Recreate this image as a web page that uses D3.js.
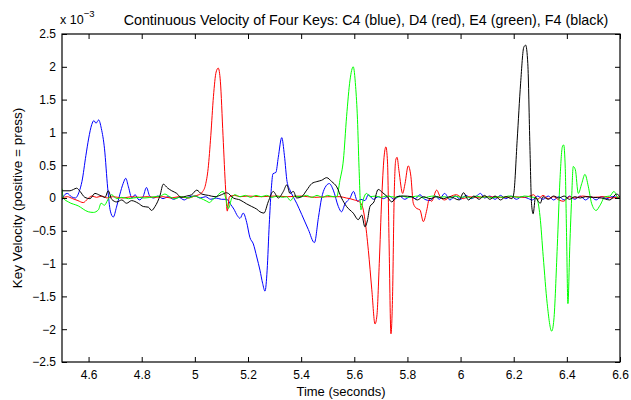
<!DOCTYPE html>
<html>
<head>
<meta charset="utf-8">
<script src="https://cdn.jsdelivr.net/npm/d3@7"></script>
<style>
  html, body { margin: 0; padding: 0; background: #fff; }
  svg { display: block; font-family: "Liberation Sans", Arial, Helvetica, sans-serif; }
</style>
</head>
<body>
<svg id="chart" width="631" height="400"></svg>
<script>
// Key velocity traces, [time in s, velocity in units of 1e-3]
const c4Blue = [
  [4.500,-0.03],[4.510,0.05],[4.520,0.07],[4.535,0.02],[4.550,0.00],[4.565,0.10],[4.575,0.25],
  [4.590,0.65],[4.600,0.90],[4.612,1.12],[4.620,1.18],[4.628,1.14],[4.638,1.19],[4.648,1.06],
  [4.660,0.75],[4.672,0.15],[4.682,-0.20],[4.693,-0.29],[4.705,-0.14],[4.718,0.06],[4.730,0.22],
  [4.740,0.30],[4.750,0.17],[4.763,0.00],[4.775,0.05],[4.790,-0.03],[4.805,0.02],[4.818,0.16],
  [4.830,0.03],[4.845,0.00],[4.860,0.03],[4.880,-0.01],[4.900,0.02],[4.920,-0.02],[4.940,0.01],
  [4.960,-0.03],[4.980,0.02],[5.000,0.03],[5.020,0.00],[5.040,0.02],[5.060,-0.02],[5.080,0.00],
  [5.100,-0.02],[5.120,-0.02],[5.135,-0.10],[5.147,-0.17],[5.160,-0.27],[5.170,-0.31],[5.182,-0.23],
  [5.195,-0.37],[5.207,-0.60],[5.220,-0.70],[5.233,-0.90],[5.245,-1.10],[5.255,-1.30],[5.264,-1.42],
  [5.272,-1.10],[5.280,-0.40],[5.287,0.10],[5.294,0.37],[5.305,0.39],[5.314,0.62],[5.327,0.92],
  [5.337,0.65],[5.347,0.25],[5.358,0.12],[5.370,0.02],[5.383,-0.08],[5.402,-0.25],[5.427,-0.48],
  [5.450,-0.68],[5.465,-0.30],[5.477,0.00],[5.490,0.16],[5.506,0.22],[5.521,0.12],[5.540,-0.13],
  [5.552,-0.21],[5.565,-0.09],[5.584,0.00],[5.597,0.10],[5.612,-0.05],[5.625,-0.02],[5.640,-0.04],
  [5.653,0.05],[5.672,-0.02],[5.690,0.02],[5.710,-0.01],[5.730,0.03],[5.750,-0.02],[5.770,0.03],
  [5.790,-0.02],[5.810,0.02],[5.830,-0.01],[5.847,0.05],[5.865,-0.02],[5.885,-0.04],[5.905,0.03],
  [5.920,-0.02],[5.940,0.07],[5.960,-0.03],[5.980,0.03],[6.000,-0.02],[6.020,0.04],[6.040,-0.01],
  [6.060,0.03],[6.075,0.07],[6.090,0.00],[6.110,0.03],[6.130,-0.02],[6.150,0.04],[6.170,-0.01],
  [6.190,0.03],[6.210,-0.02],[6.230,0.02],[6.250,0.00],[6.270,-0.03],[6.290,0.03],[6.310,-0.02],
  [6.330,0.03],[6.350,-0.03],[6.370,0.02],[6.390,-0.03],[6.410,0.03],[6.430,-0.02],[6.450,0.03],
  [6.470,-0.03],[6.490,0.02],[6.510,-0.03],[6.530,0.02],[6.550,-0.01],[6.570,0.02],[6.600,0.00]
];

const d4Red = [
  [4.500,0.00],[4.520,0.02],[4.540,-0.01],[4.560,-0.04],[4.580,-0.07],[4.595,-0.02],[4.612,0.03],
  [4.630,0.01],[4.650,0.03],[4.670,0.00],[4.690,0.02],[4.710,0.01],[4.730,0.00],[4.760,0.02],
  [4.790,0.01],[4.820,0.02],[4.850,0.01],[4.880,0.02],[4.910,0.00],[4.940,0.02],[4.975,0.00],
  [5.000,0.03],[5.015,0.05],[5.028,0.09],[5.040,0.20],[5.050,0.45],[5.060,0.95],[5.070,1.55],
  [5.080,1.92],[5.088,1.98],[5.096,1.78],[5.106,0.95],[5.116,0.12],[5.122,-0.20],[5.130,0.02],
  [5.150,0.04],[5.170,0.02],[5.200,0.03],[5.250,0.02],[5.300,0.03],[5.350,0.02],[5.400,0.03],
  [5.450,0.01],[5.500,0.02],[5.546,0.02],[5.570,0.00],[5.584,-0.01],[5.600,-0.03],[5.620,-0.06],
  [5.632,-0.15],[5.640,-0.33],[5.653,-0.80],[5.666,-1.40],[5.678,-1.92],[5.685,-1.80],[5.694,-1.00],
  [5.703,-0.03],[5.712,0.62],[5.719,0.78],[5.725,0.55],[5.731,-0.70],[5.738,-2.07],[5.744,-1.50],
  [5.750,0.00],[5.756,0.58],[5.761,0.62],[5.768,0.42],[5.782,0.07],[5.791,0.22],[5.803,0.49],
  [5.813,0.33],[5.822,-0.08],[5.835,-0.16],[5.847,-0.18],[5.860,-0.36],[5.873,-0.18],[5.882,-0.02],
  [5.891,-0.05],[5.910,0.12],[5.923,0.02],[5.940,-0.03],[5.960,0.02],[5.985,0.05],[6.010,-0.01],
  [6.030,0.02],[6.060,0.01],[6.100,0.02],[6.150,0.01],[6.200,0.02],[6.240,0.01],[6.260,0.03],
  [6.275,0.05],[6.290,-0.02],[6.310,0.04],[6.330,-0.01],[6.350,0.02],[6.370,-0.03],[6.387,-0.05],
  [6.410,0.02],[6.430,0.00],[6.460,0.03],[6.500,0.01],[6.540,0.02],[6.570,0.00],[6.600,0.02]
];

const e4Green = [
  [4.500,0.14],[4.505,0.00],[4.524,-0.06],[4.561,-0.12],[4.599,-0.21],[4.618,-0.22],[4.637,-0.18],
  [4.647,-0.08],[4.660,-0.11],[4.672,-0.03],[4.687,0.05],[4.706,-0.01],[4.725,0.01],[4.750,-0.01],
  [4.787,0.01],[4.810,0.00],[4.850,0.02],[4.870,0.03],[4.887,0.06],[4.905,0.02],[4.925,-0.01],
  [4.950,0.02],[4.975,0.00],[5.000,0.03],[5.020,0.00],[5.045,-0.05],[5.055,-0.07],[5.068,-0.02],
  [5.082,0.02],[5.095,0.08],[5.107,0.10],[5.116,0.00],[5.126,-0.16],[5.139,0.00],[5.150,0.05],
  [5.170,0.02],[5.190,0.04],[5.210,0.01],[5.230,0.04],[5.250,0.02],[5.270,0.04],[5.290,0.01],
  [5.310,0.03],[5.330,0.01],[5.345,0.02],[5.360,-0.04],[5.375,0.03],[5.400,0.02],[5.420,0.04],
  [5.440,0.01],[5.460,0.04],[5.480,0.01],[5.500,0.04],[5.520,0.02],[5.534,0.02],[5.546,0.27],
  [5.559,0.58],[5.571,1.24],[5.584,1.80],[5.596,2.00],[5.605,1.70],[5.612,1.20],[5.618,0.45],
  [5.625,-0.18],[5.634,-0.02],[5.646,0.07],[5.660,0.02],[5.680,0.03],[5.700,0.01],[5.720,0.03],
  [5.740,0.02],[5.760,0.01],[5.780,0.03],[5.800,0.01],[5.820,0.02],[5.840,0.03],[5.860,0.00],
  [5.880,0.02],[5.900,0.03],[5.920,0.01],[5.940,0.02],[5.960,0.00],[5.980,0.03],[6.000,0.01],
  [6.020,0.02],[6.040,0.00],[6.060,0.03],[6.080,0.01],[6.100,0.02],[6.120,0.00],[6.140,0.02],
  [6.160,0.01],[6.180,0.03],[6.200,0.02],[6.220,0.01],[6.240,0.03],[6.260,0.02],[6.275,0.01],
  [6.286,0.00],[6.299,-0.28],[6.311,-0.89],[6.326,-1.61],[6.343,-2.03],[6.351,-1.86],[6.364,-0.74],
  [6.374,0.27],[6.383,0.78],[6.388,0.81],[6.394,0.45],[6.399,-0.59],[6.404,-1.61],[6.411,-0.74],
  [6.418,0.00],[6.424,0.48],[6.432,0.43],[6.443,0.07],[6.456,0.22],[6.468,0.36],[6.481,0.17],
  [6.493,-0.08],[6.510,-0.19],[6.525,-0.11],[6.544,0.02],[6.562,0.03],[6.577,0.10],[6.594,0.00],
  [6.600,0.02]
];

const f4Black = [
  [4.500,0.11],[4.530,0.11],[4.543,0.13],[4.555,0.15],[4.568,0.10],[4.586,0.01],[4.605,-0.01],
  [4.624,0.07],[4.643,0.04],[4.662,0.01],[4.674,0.11],[4.687,-0.02],[4.706,-0.06],[4.725,-0.03],
  [4.743,-0.08],[4.762,-0.04],[4.787,-0.08],[4.806,-0.13],[4.825,-0.14],[4.837,-0.19],[4.850,-0.13],
  [4.869,0.04],[4.881,0.21],[4.898,0.15],[4.913,0.11],[4.932,0.07],[4.948,0.01],[4.969,0.03],
  [4.988,0.05],[5.007,0.12],[5.026,0.06],[5.051,0.04],[5.076,0.02],[5.100,0.05],[5.120,0.08],
  [5.145,0.00],[5.170,-0.03],[5.195,-0.09],[5.214,-0.13],[5.233,-0.17],[5.245,-0.21],[5.260,-0.23],
  [5.276,-0.06],[5.295,0.10],[5.314,0.00],[5.333,0.10],[5.346,0.20],[5.358,0.07],[5.371,0.10],
  [5.383,0.00],[5.402,0.02],[5.421,0.12],[5.440,0.22],[5.459,0.25],[5.477,0.27],[5.496,0.31],
  [5.515,0.25],[5.534,0.17],[5.552,0.00],[5.571,-0.13],[5.596,-0.23],[5.615,-0.33],[5.628,-0.26],
  [5.640,-0.44],[5.649,-0.35],[5.659,-0.13],[5.674,-0.06],[5.690,0.13],[5.707,0.08],[5.724,0.02],
  [5.741,-0.06],[5.760,0.02],[5.785,0.03],[5.816,0.02],[5.837,-0.03],[5.860,0.02],[5.885,-0.01],
  [5.910,0.02],[5.935,-0.01],[5.960,0.02],[5.995,-0.03],[6.011,0.08],[6.030,-0.03],[6.050,0.03],
  [6.070,-0.02],[6.090,0.04],[6.110,-0.02],[6.130,0.03],[6.150,-0.03],[6.170,0.02],[6.193,-0.01],
  [6.200,0.06],[6.213,0.88],[6.226,1.75],[6.238,2.30],[6.245,2.33],[6.253,2.05],[6.261,0.78],
  [6.267,-0.08],[6.273,-0.24],[6.282,0.01],[6.292,-0.05],[6.300,-0.08],[6.310,0.02],[6.330,-0.02],
  [6.350,0.03],[6.370,0.00],[6.390,0.03],[6.410,-0.02],[6.430,0.02],[6.450,0.00],[6.470,0.02],
  [6.500,0.01],[6.530,0.00],[6.562,-0.03],[6.587,0.06],[6.600,0.02]
];

const xTicks = [4.6, 4.8, 5.0, 5.2, 5.4, 5.6, 5.8, 6.0, 6.2, 6.4, 6.6];
const yTicks = [-2.5, -2, -1.5, -1, -0.5, 0, 0.5, 1, 1.5, 2, 2.5];

const series = [
  { data: c4Blue,  color: "#0000ff" },
  { data: d4Red,   color: "#ff0000" },
  { data: e4Green, color: "#00ff00" },
  { data: f4Black, color: "#000000" }
];

const svg = d3.select("#chart");
const m = { left: 62, right: 11, top: 34, bottom: 38 };
const W = 631, H = 400;
const iw = W - m.left - m.right, ih = H - m.top - m.bottom;

const x = d3.scaleLinear().domain([4.5, 6.6]).range([m.left, m.left + iw]);
const y = d3.scaleLinear().domain([-2.5, 2.5]).range([m.top + ih, m.top]);

const fmt = v => (v === 0 ? "0" : d3.format("")(+v.toFixed(1))).replace("-", "\u2212");

svg.append("defs").append("clipPath").attr("id", "plotClip")
  .append("rect").attr("x", m.left).attr("y", m.top).attr("width", iw).attr("height", ih);

// traces
const line = d3.line().x(d => x(d[0])).y(d => y(d[1])).curve(d3.curveMonotoneX);
const traces = svg.append("g").attr("clip-path", "url(#plotClip)");
series.forEach(s => {
  traces.append("path").datum(s.data)
    .attr("fill", "none").attr("stroke", s.color).attr("stroke-width", 1)
    .attr("stroke-linejoin", "round").attr("d", line);
});

// box axes with inward ticks on all four sides
const tl = 5;
const axStyle = g => {
  g.select(".domain").remove();
  g.selectAll(".tick line").attr("stroke", "#000").attr("stroke-width", 1);
  g.selectAll("text").attr("fill", "#000").attr("font-size", "12px");
};
svg.append("g").attr("transform", `translate(0,${m.top + ih})`)
  .call(d3.axisBottom(x).tickValues(xTicks).tickSizeInner(-tl).tickSizeOuter(0).tickPadding(8).tickFormat(fmt))
  .call(axStyle);
svg.append("g").attr("transform", `translate(0,${m.top})`)
  .call(d3.axisTop(x).tickValues(xTicks).tickSizeInner(-tl).tickSizeOuter(0).tickFormat(""))
  .call(axStyle);
svg.append("g").attr("transform", `translate(${m.left},0)`)
  .call(d3.axisLeft(y).tickValues(yTicks).tickSizeInner(-tl).tickSizeOuter(0).tickPadding(6).tickFormat(fmt))
  .call(axStyle);
svg.append("g").attr("transform", `translate(${m.left + iw},0)`)
  .call(d3.axisRight(y).tickValues(yTicks).tickSizeInner(-tl).tickSizeOuter(0).tickFormat(""))
  .call(axStyle);

svg.append("rect").attr("x", m.left).attr("y", m.top).attr("width", iw).attr("height", ih)
  .attr("fill", "none").attr("stroke", "#000").attr("stroke-width", 1.2);

// exponent note
const ex = svg.append("text").attr("x", 60).attr("y", 24).attr("font-size", "12.5px").attr("fill", "#000");
ex.append("tspan").text("x 10");
ex.append("tspan").attr("dy", -7).attr("font-size", "9.5px").text("\u22123");

// title and axis labels
svg.append("text").attr("x", 366).attr("y", 25).attr("text-anchor", "middle")
  .attr("font-size", "14.3px").attr("fill", "#000")
  .text("Continuous Velocity of Four Keys: C4 (blue), D4 (red), E4 (green), F4 (black)");
svg.append("text").attr("x", x(5.55)).attr("y", 396).attr("text-anchor", "middle")
  .attr("font-size", "13px").attr("fill", "#000").text("Time (seconds)");
svg.append("text").attr("transform", `translate(22,${y(0)}) rotate(-90)`).attr("text-anchor", "middle")
  .attr("font-size", "13.5px").attr("fill", "#000").text("Key Velocity (positive = press)");
</script>
</body>
</html>
